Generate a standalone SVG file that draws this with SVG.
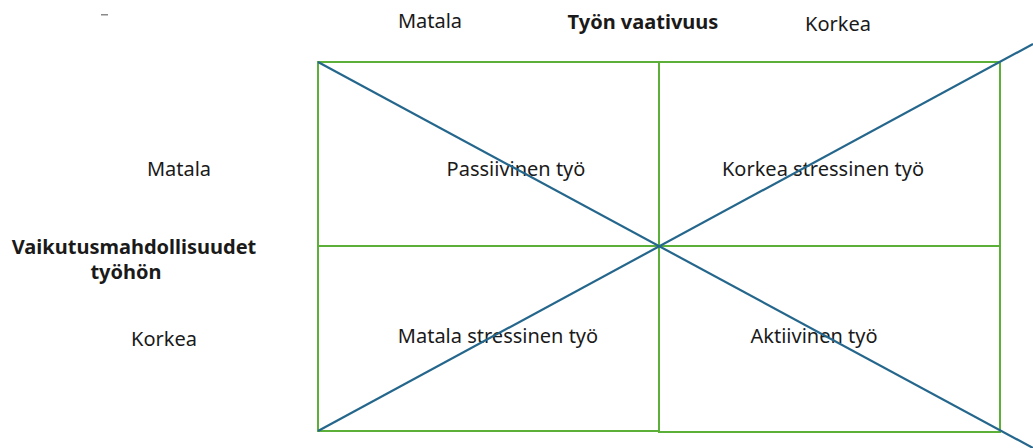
<svg xmlns="http://www.w3.org/2000/svg" width="1033" height="448" viewBox="0 0 1033 448">
  <style>
    .lbl { font-family: "Noto Sans", "Open Sans", sans-serif; font-size: 20px; fill: #1a1a1a; text-anchor: middle; }
    .bold { font-weight: bold; }
    .cell { fill: none; stroke: #5cb03a; stroke-width: 2; }
    .diag { fill: none; stroke: #25678c; stroke-width: 2.2; }
  </style>
  <rect width="1033" height="448" fill="#ffffff"/>
  <rect x="101" y="14" width="7" height="1.5" fill="#8a8a8a"/>

  <!-- axis labels -->
  <g id="axis-demand">
    <text class="lbl" x="430" y="28">Matala</text>
    <text class="lbl bold" x="643" y="29">Työn vaativuus</text>
    <text class="lbl" x="838" y="31">Korkea</text>
  </g>
  <g id="axis-control">
    <text class="lbl" x="179" y="176">Matala</text>
    <text class="lbl bold" x="134" y="254">Vaikutusmahdollisuudet</text>
    <text class="lbl bold" x="126" y="279">työhön</text>
    <text class="lbl" x="164" y="346">Korkea</text>
  </g>

  <!-- quadrants -->
  <g id="q-passive">
    <rect class="cell" x="318" y="62" width="341" height="184"/>
    <text class="lbl" x="516" y="176">Passiivinen työ</text>
  </g>
  <g id="q-high-strain">
    <rect class="cell" x="659" y="62" width="341" height="184"/>
    <text class="lbl" x="823" y="176">Korkea stressinen työ</text>
  </g>
  <g id="q-low-strain">
    <rect class="cell" x="318" y="246" width="341" height="185"/>
    <text class="lbl" x="498" y="343">Matala stressinen työ</text>
  </g>
  <g id="q-active">
    <rect class="cell" x="659" y="246" width="341" height="186"/>
    <text class="lbl" x="814" y="343">Aktiivinen työ</text>
  </g>

  <!-- diagonals -->
  <g id="connectors">
    <line class="diag" x1="318" y1="62" x2="1033" y2="448"/>
    <line class="diag" x1="318" y1="431" x2="1033" y2="44"/>
  </g>
</svg>
